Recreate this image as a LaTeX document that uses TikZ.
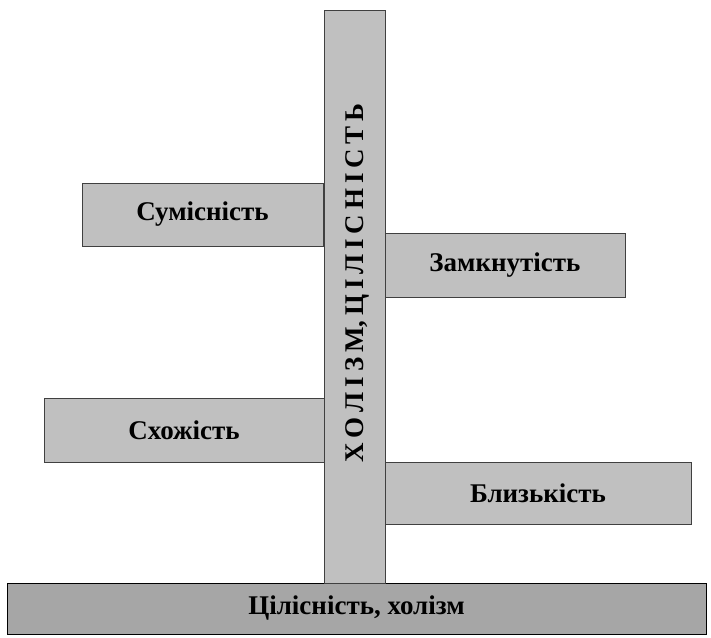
\documentclass[tikz,border=0pt]{standalone}
\usepackage{fontspec}
\setmainfont{Liberation Serif}
\definecolor{boxgray}{HTML}{C0C0C0}
\definecolor{basegray}{HTML}{A6A6A6}
\definecolor{edgegray}{HTML}{404040}
\newcommand{\gap}{\hspace{0.18em}}
\begin{document}
\begin{tikzpicture}[
    x=1pt, y=-1pt,
    every node/.style={font=\fontsize{27}{31}\selectfont\bfseries, inner sep=0pt},
    box/.style={draw=edgegray, line width=1pt, fill=boxgray, rectangle},
    base/.style={draw=black, line width=1pt, fill=basegray, rectangle}
]
\useasboundingbox (0,0) rectangle (711,637);
\node[base, minimum width=699pt, minimum height=51pt] (holism) at (356.5,608.5) {Цілісність, холізм};
\node[box, minimum width=61pt, minimum height=573pt] (column) at (354.5,296.5) {};
\node[rotate=90] (columntext) at (357.5,283)
    {Х\gap О\gap Л\gap І\gap З\gap М,\gap Ц\gap І\gap Л\gap І\gap С\gap Н\gap І\gap С\gap Т\gap Ь};
\node[box, minimum width=241pt, minimum height=63pt] (sum) at (202.5,214.5) {Сумісність};
\node[box, minimum width=240pt, minimum height=64pt] (zam) at (505,265) {Замкнутість};
\node[box, minimum width=280pt, minimum height=64pt] (skh) at (184,430) {Схожість};
\node[box, minimum width=306pt, minimum height=62pt] (bly) at (538,493) {Близькість};
\end{tikzpicture}
\end{document}
